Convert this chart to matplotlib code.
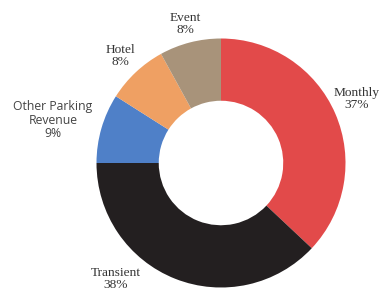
import matplotlib
matplotlib.use("Agg")
import matplotlib.pyplot as plt

categories = ["Monthly", "Transient", "Other Parking\nRevenue", "Hotel", "Event"]
values = [37, 38, 9, 8, 8]
colors = ["#E24A4A", "#231F20", "#4F80C8", "#EFA063", "#A8937A"]

W, H = 380, 297
fig = plt.figure(figsize=(W / 100, H / 100), dpi=100)
ax = fig.add_axes([0, 0, 1, 1])

cx, cy, R = 221, H - 163, 124.5
ax.pie(values, colors=colors, startangle=90, counterclock=False,
       center=(cx, cy), radius=R, wedgeprops=dict(width=R * 0.5, linewidth=0),
       frame=True)
ax.set_xlim(0, W)
ax.set_ylim(0, H)
ax.set_aspect("equal")
ax.axis("off")

label_pos = [(357, 99), (116, 279), (53, 120), (120, 56), (185, 24)]
serif = dict(family="Liberation Serif", fontsize=9.6, color="#333333")
sans = dict(family="Open Sans", fontsize=8.8, color="#444444")
for i, (cat, v) in enumerate(zip(categories, values)):
    x, y = label_pos[i]
    style = sans if "Other" in cat else serif
    ax.text(x, H - y, f"{cat}\n{v}%", ha="center", va="center",
            linespacing=1.05, **style)

fig.savefig("out.png", dpi=100)
